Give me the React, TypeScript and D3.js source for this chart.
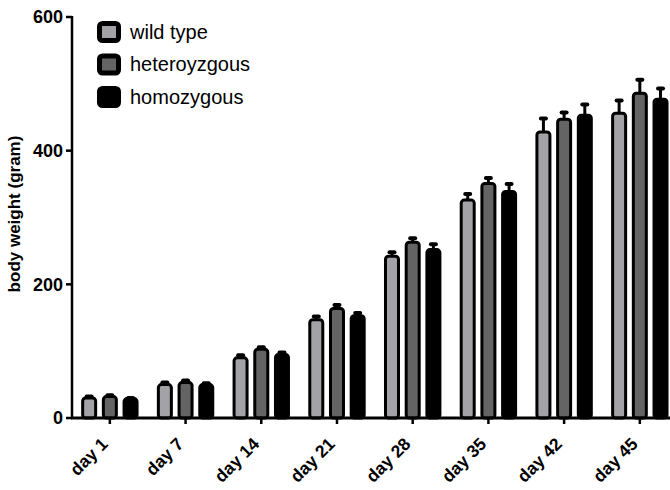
import React, { useEffect, useRef } from 'react';
import * as d3 from 'd3';

// categories and series
const days = ['day 1', 'day 7', 'day 14', 'day 21', 'day 28', 'day 35', 'day 42', 'day 45'];
const groups = ['wild type', 'heteroyzgous', 'homozygous'];

const wildType = [30, 50, 90, 147, 242, 326, 428, 456];
const heterozygous = [32, 53, 103, 164, 263, 351, 447, 486];
const homozygous = [29, 50, 95, 153, 252, 339, 453, 477];

// upper error (SEM)
const wildTypeErr = [2, 3, 4, 5, 6, 9, 20, 19];
const heterozygousErr = [2, 3, 3, 5, 6, 8, 10, 20];
const homozygousErr = [1, 2, 3, 4, 8, 11, 16, 16];

const yTicks = [0, 200, 400, 600];
const fills = ['#a3a3a7', '#646464', '#000000'];

const App = () => {
    const svgRef = useRef<SVGSVGElement>(null);

    useEffect(() => {
        const svg = d3.select(svgRef.current);
        svg.selectAll('*').remove();

        const font = '"Liberation Sans", Arial, Helvetica, sans-serif';
        const values = [wildType, heterozygous, homozygous];
        const errors = [wildTypeErr, heterozygousErr, homozygousErr];

        const axisX = 72;
        const baseY = 418;

        const x0 = d3.scaleBand<string>()
            .domain(days)
            .range([axisX, axisX + 8 * 75.71])
            .padding(0);

        const x1 = d3.scaleBand<string>()
            .domain(groups)
            .range([0, 57.4])
            .paddingInner(0.227)
            .paddingOuter(0);

        const y = d3.scaleLinear()
            .domain([0, 600])
            .range([baseY, 17]);

        const groupOffset = x0.bandwidth() / 2 - 57.4 / 2;
        const bw = x1.bandwidth();

        // bars
        groups.forEach((g, gi) => {
            const layer = svg.append('g');
            days.forEach((d, di) => {
                const v = values[gi][di];
                const e = errors[gi][di];
                const bx = (x0(d) as number) + groupOffset + (x1(g) as number);
                const cx = bx + bw / 2;

                // error bar (upper only)
                layer.append('line')
                    .attr('x1', cx).attr('x2', cx)
                    .attr('y1', y(v)).attr('y2', y(v + e))
                    .attr('stroke', '#000')
                    .attr('stroke-width', 3);
                layer.append('line')
                    .attr('x1', cx - 2.5).attr('x2', cx + 2.5)
                    .attr('y1', y(v + e)).attr('y2', y(v + e))
                    .attr('stroke', '#000')
                    .attr('stroke-width', 4)
                    .attr('stroke-linecap', 'round');

                layer.append('rect')
                    .attr('x', bx + 1.5)
                    .attr('y', y(v))
                    .attr('width', bw - 3)
                    .attr('height', y(0) - y(v))
                    .attr('rx', 3)
                    .attr('fill', fills[gi])
                    .attr('stroke', '#000')
                    .attr('stroke-width', 3);
            });
        });

        // y axis
        const yAxis = svg.append('g');
        yAxis.append('line')
            .attr('x1', axisX).attr('x2', axisX)
            .attr('y1', y(600) - 1).attr('y2', baseY + 1)
            .attr('stroke', '#000').attr('stroke-width', 2.5);
        yTicks.forEach(t => {
            yAxis.append('line')
                .attr('x1', axisX - 6).attr('x2', axisX)
                .attr('y1', y(t)).attr('y2', y(t))
                .attr('stroke', '#000').attr('stroke-width', 2.5);
            yAxis.append('text')
                .attr('x', axisX - 9)
                .attr('y', y(t))
                .attr('dy', '0.36em')
                .attr('text-anchor', 'end')
                .attr('font-family', font)
                .attr('font-weight', 'bold')
                .attr('font-size', 18)
                .text(t);
        });

        svg.append('text')
            .attr('transform', `translate(20,${214}) rotate(-90)`)
            .attr('text-anchor', 'middle')
            .attr('font-family', font)
            .attr('font-weight', 'bold')
            .attr('font-size', 17)
            .text('body weight (gram)');

        // x axis
        const xAxis = svg.append('g');
        xAxis.append('line')
            .attr('x1', axisX - 1).attr('x2', 670)
            .attr('y1', baseY).attr('y2', baseY)
            .attr('stroke', '#000').attr('stroke-width', 3);
        days.forEach(d => {
            const cx = (x0(d) as number) + x0.bandwidth() / 2;
            xAxis.append('line')
                .attr('x1', cx).attr('x2', cx)
                .attr('y1', baseY).attr('y2', baseY + 6)
                .attr('stroke', '#000').attr('stroke-width', 2.5);
            xAxis.append('text')
                .attr('transform', `translate(${cx - 1},${baseY + 27}) rotate(-45)`)
                .attr('text-anchor', 'end')
                .attr('font-family', font)
                .attr('font-weight', 'bold')
                .attr('font-size', 17.5)
                .text(d);
        });

        // legend
        const legend = svg.append('g');
        groups.forEach((g, i) => {
            const cy = 32 + i * 32.5;
            legend.append('rect')
                .attr('x', 99.5)
                .attr('y', cy - 8.5)
                .attr('width', 19)
                .attr('height', 17)
                .attr('rx', 3)
                .attr('fill', fills[i])
                .attr('stroke', '#000')
                .attr('stroke-width', 5);
            legend.append('text')
                .attr('x', 130)
                .attr('y', cy + 6.5)
                .attr('font-family', font)
                .attr('font-size', 20)
                .text(g);
        });
    }, []);

    return (
        <svg
            ref={svgRef}
            width={670}
            height={490}
            style={{ position: 'absolute', left: 0, top: 0, background: '#fff' }}
        />
    );
};

export default App;
